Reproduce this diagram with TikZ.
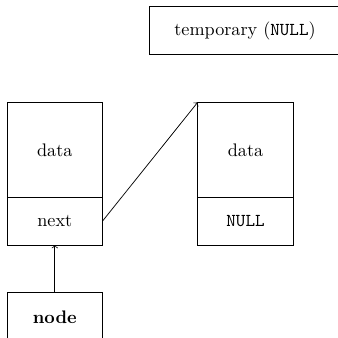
\documentclass[tikz,border=0pt]{standalone}
\newdimen\px
\px=0.5503pt
\tikzset{
  cell/.style={draw, rectangle, inner sep=0pt, outer sep=0pt, line width=0.4pt},
  link/.style={->, line width=0.4pt}
}
\begin{document}
\begin{tikzpicture}[x=\px, y=-\px]
\clip (0,0) rectangle (338,338);
\node[cell, minimum width={95*\px}, minimum height={95.4*\px}] (d1) at (54.8,150) {data};
\node[cell, minimum width={95*\px}, minimum height={47.3*\px}] (n1) at (54.8,221.35) {next};
\node[cell, minimum width={95.6*\px}, minimum height={95.4*\px}] (d2) at (245.5,150) {data};
\node[cell, minimum width={95.6*\px}, minimum height={47.3*\px}] (n2) at (245.5,221.35) {\texttt{NULL}};
\node[cell, minimum width={191*\px}, minimum height={47.5*\px}] (tmp) at (245,30.5) {temporary (\texttt{NULL})};
\node[cell, minimum width={95*\px}, minimum height={49.4*\px}] (nd) at (54.8,317) {\textbf{node}};
\draw[link] (n1.east) -- (d2.north west);
\draw[link] (nd.north) -- (n1.south);
\end{tikzpicture}
\end{document}
